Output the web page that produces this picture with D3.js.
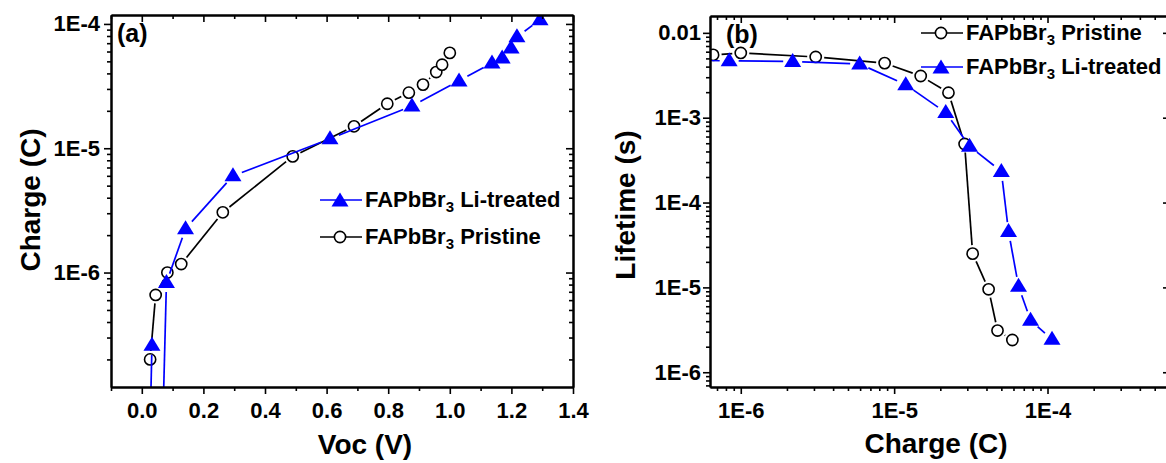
<!doctype html>
<html lang="en">
<head>
<meta charset="utf-8">
<title>Charge and lifetime</title>
<script src="https://cdn.jsdelivr.net/npm/d3@7"></script>
<style>
  body { margin: 0; background: #fff; }
  svg text { font-family: "Liberation Sans", Arial, sans-serif; font-weight: bold; fill: #000; white-space: pre; }
  .axis path { stroke: #000; stroke-width: 2; }
  .axis line { stroke: #000; stroke-width: 1.6; }
</style>
</head>
<body>
<div id="viz"></div>
<script>
// ---- DATA ----
// panel (a): charge vs Voc (first points of Li-treated dip below the axis)
var vocLi       = [0.033, 0.02, 0.06, 0.08, 0.142, 0.296, 0.611, 0.877, 1.03, 1.137, 1.17, 1.199, 1.218, 1.293];
var chargeLi    = [2.6e-7, 1e-8, 1e-8, 8.3e-7, 2.25e-6, 6.0e-6, 1.19e-5, 2.19e-5, 3.48e-5, 4.86e-5, 5.33e-5, 6.41e-5, 7.87e-5, 1.08e-4];
var vocPristine    = [0.027, 0.045, 0.083, 0.128, 0.263, 0.49, 0.689, 0.797, 0.867, 0.913, 0.956, 0.975, 1.0];
var chargePristine = [2.0e-7, 6.6e-7, 1.0e-6, 1.17e-6, 3.05e-6, 8.6e-6, 1.5e-5, 2.28e-5, 2.8e-5, 3.25e-5, 4.1e-5, 4.7e-5, 5.85e-5];

// panel (b): lifetime vs charge
var qLi        = [2.6e-7, 8.4e-7, 2.18e-6, 5.96e-6, 1.19e-5, 2.17e-5, 3.1e-5, 5.0e-5, 5.57e-5, 6.47e-5, 7.75e-5, 1.07e-4];
var tauLi      = [4.8e-3, 4.7e-3, 4.6e-3, 4.3e-3, 2.45e-3, 1.15e-3, 4.6e-4, 2.33e-4, 4.56e-5, 1.03e-5, 4.1e-6, 2.44e-6];
var qPristine   = [6.6e-7, 1.0e-6, 3.08e-6, 8.67e-6, 1.49e-5, 2.26e-5, 2.88e-5, 3.25e-5, 4.13e-5, 4.72e-5, 5.9e-5];
var tauPristine = [5.5e-3, 5.8e-3, 5.2e-3, 4.4e-3, 3.1e-3, 1.97e-3, 4.9e-4, 2.5e-5, 9.5e-6, 3.1e-6, 2.4e-6];

// tick labels
var vocTicks = [0, 0.2, 0.4, 0.6, 0.8, 1.0, 1.2, 1.4];
var chargeTicksA = [1e-6, 1e-5, 1e-4];
var chargeTicksB = [1e-6, 1e-5, 1e-4];
var tauTicks = [1e-6, 1e-5, 1e-4, 1e-3, 1e-2];

var BLUE = "#0000ff";

var w = 1166, h = 463;
var svg = d3.select("#viz").append("svg")
	.attr("width", w)
	.attr("height", h);

svg.append("rect").attr("width", w).attr("height", h).attr("fill", "#fff");

// log minor ticks 2..9 inside a domain
function minorLog(scale) {
	var d = scale.domain(), out = [];
	var lo = Math.floor(Math.log10(Math.min(d[0], d[1]))), hi = Math.ceil(Math.log10(Math.max(d[0], d[1])));
	for (var e = lo; e <= hi; e++) {
		for (var m = 2; m <= 9; m++) {
			var v = m * Math.pow(10, e);
			if (v >= Math.min(d[0], d[1]) && v <= Math.max(d[0], d[1])) out.push(v);
		}
	}
	return out;
}

function expFmt(v) {
	var e = Math.round(Math.log10(v));
	return "1E" + e;
}

// frame with mirrored axes
function frame(g, x, y, o) {
	var x0 = x.range()[0], x1 = x.range()[1], y0 = y.range()[0], y1 = y.range()[1];

	g.append("g").attr("class", "axis").attr("transform", "translate(0," + y0 + ")")
		.call(d3.axisBottom(x).tickValues(o.xMinor).tickFormat("").tickSize(4).tickSizeOuter(0));
	g.append("g").attr("class", "axis").attr("transform", "translate(0," + y0 + ")")
		.call(d3.axisBottom(x).tickValues(o.xMajor).tickFormat(o.xFmt).tickSize(7).tickPadding(8).tickSizeOuter(0))
		.selectAll("text").style("font-size", "22px");

	g.append("g").attr("class", "axis").attr("transform", "translate(0," + y1 + ")")
		.call(d3.axisTop(x).tickValues(o.xMinor).tickFormat("").tickSize(-4).tickSizeOuter(0));
	g.append("g").attr("class", "axis").attr("transform", "translate(0," + y1 + ")")
		.call(d3.axisTop(x).tickValues(o.xMajor).tickFormat("").tickSize(-7).tickSizeOuter(0));

	g.append("g").attr("class", "axis").attr("transform", "translate(" + x0 + ",0)")
		.call(d3.axisLeft(y).tickValues(o.yMinor).tickFormat("").tickSize(4).tickSizeOuter(0));
	g.append("g").attr("class", "axis").attr("transform", "translate(" + x0 + ",0)")
		.call(d3.axisLeft(y).tickValues(o.yMajor).tickFormat(o.yFmt).tickSize(7).tickPadding(o.yPad).tickSizeOuter(0))
		.selectAll("text").style("font-size", "22px");

	g.append("g").attr("class", "axis").attr("transform", "translate(" + x1 + ",0)")
		.call(d3.axisRight(y).tickValues(o.yMinor).tickFormat("").tickSize(-4).tickSizeOuter(0));
	g.append("g").attr("class", "axis").attr("transform", "translate(" + x1 + ",0)")
		.call(d3.axisRight(y).tickValues(o.yMajor).tickFormat("").tickSize(-7).tickSizeOuter(0));
}

function clip(id, x, y) {
	svg.append("clipPath").attr("id", id).append("rect")
		.attr("x", x.range()[0]).attr("y", y.range()[1])
		.attr("width", x.range()[1] - x.range()[0])
		.attr("height", y.range()[0] - y.range()[1]);
}

var triPath = "M0,-8.5L8.5,5.5L-8.5,5.5Z";

// lines with a gap around every symbol, Origin style
function series(g, xs, ys, x, y, color, shape) {
	var pts = xs.map(function(v, i) { return [x(v), y(ys[i])]; });
	var gap = shape === "tri" ? 9.5 : 8.5;
	var segs = d3.pairs(pts).filter(function(s) {
		return Math.hypot(s[1][0] - s[0][0], s[1][1] - s[0][1]) > 2 * gap;
	});
	g.selectAll(null).data(segs).enter().append("line")
		.attr("x1", function(s) { var L = Math.hypot(s[1][0] - s[0][0], s[1][1] - s[0][1]); return s[0][0] + (s[1][0] - s[0][0]) * gap / L; })
		.attr("y1", function(s) { var L = Math.hypot(s[1][0] - s[0][0], s[1][1] - s[0][1]); return s[0][1] + (s[1][1] - s[0][1]) * gap / L; })
		.attr("x2", function(s) { var L = Math.hypot(s[1][0] - s[0][0], s[1][1] - s[0][1]); return s[1][0] - (s[1][0] - s[0][0]) * gap / L; })
		.attr("y2", function(s) { var L = Math.hypot(s[1][0] - s[0][0], s[1][1] - s[0][1]); return s[1][1] - (s[1][1] - s[0][1]) * gap / L; })
		.attr("stroke", color).attr("stroke-width", 1.7);

	if (shape === "tri") {
		g.selectAll(null).data(pts).enter().append("path")
			.attr("d", triPath)
			.attr("transform", function(p) { return "translate(" + p[0] + "," + p[1] + ")"; })
			.attr("fill", color);
	} else {
		g.selectAll(null).data(pts).enter().append("circle")
			.attr("cx", function(p) { return p[0]; })
			.attr("cy", function(p) { return p[1]; })
			.attr("r", 5.6)
			.attr("fill", "#fff").attr("stroke", color).attr("stroke-width", 1.6);
	}
}

function legendRow(g, x, y, shape, color, label) {
	g.append("line").attr("x1", x).attr("x2", x + 42).attr("y1", y).attr("y2", y)
		.attr("stroke", color).attr("stroke-width", 1.7);
	if (shape === "tri") {
		g.append("path").attr("d", triPath).attr("transform", "translate(" + (x + 20) + "," + (y + 1) + ")").attr("fill", color);
	} else {
		g.append("circle").attr("cx", x + 20).attr("cy", y).attr("r", 5.6)
			.attr("fill", "#fff").attr("stroke", color).attr("stroke-width", 1.6);
	}
	var t = g.append("text").attr("x", x + 45).attr("y", y + 7).style("font-size", "22px");
	t.append("tspan").text("FAPbBr");
	t.append("tspan").attr("dy", 5).style("font-size", "15px").text("3");
	t.append("tspan").attr("dy", -5).text(" " + label);
}

// ---- PANEL (a) ----
var xa = d3.scaleLinear().domain([-0.1, 1.4]).range([111, 573]);
var ya = d3.scaleLog().domain([1.2e-7, 1.18e-4]).range([387, 15]);
var ga = svg.append("g");
clip("clipA", xa, ya);

var da = ga.append("g").attr("clip-path", "url(#clipA)");
series(da, vocPristine, chargePristine, xa, ya, "#000", "circle");
series(da, vocLi, chargeLi, xa, ya, BLUE, "tri");

frame(ga, xa, ya, {
	xMajor: vocTicks, xMinor: d3.range(-0.1, 1.45, 0.2).map(function(v) { return +v.toFixed(1); }),
	xFmt: d3.format(".1f"),
	yMajor: chargeTicksA, yMinor: minorLog(ya), yFmt: expFmt, yPad: 4
});

legendRow(ga, 320, 200, "tri", BLUE, "Li-treated");
legendRow(ga, 320, 237, "circle", "#000", "Pristine");

ga.append("text").attr("x", 117).attr("y", 42).style("font-size", "25px").text("(a)");
ga.append("text").attr("x", 365).attr("y", 454).attr("text-anchor", "middle").style("font-size", "28px").text("Voc (V)");
ga.append("text").attr("transform", "translate(40,200) rotate(-90)").attr("text-anchor", "middle")
	.style("font-size", "28px").text("Charge (C)");

// ---- PANEL (b) ----
var xb = d3.scaleLog().domain([6.3e-7, 6.29e-4]).range([710, 1170]);
var yb = d3.scaleLog().domain([6.7e-7, 0.0158]).range([387, 16]);
var gb = svg.append("g");
clip("clipB", xb, yb);

var db = gb.append("g").attr("clip-path", "url(#clipB)");
series(db, qPristine, tauPristine, xb, yb, "#000", "circle");
series(db, qLi, tauLi, xb, yb, BLUE, "tri");

frame(gb, xb, yb, {
	xMajor: chargeTicksB, xMinor: minorLog(xb), xFmt: expFmt,
	yMajor: tauTicks, yMinor: minorLog(yb),
	yFmt: function(v) { return v === 1e-2 ? "0.01" : expFmt(v); }, yPad: 2
});

legendRow(gb, 921, 33, "circle", "#000", "Pristine");
legendRow(gb, 921, 67, "tri", BLUE, "Li-treated");

gb.append("text").attr("x", 726).attr("y", 43).style("font-size", "25px").text("(b)");
gb.append("text").attr("x", 936).attr("y", 453).attr("text-anchor", "middle").style("font-size", "28px").text("Charge (C)");
gb.append("text").attr("transform", "translate(635,205) rotate(-90)").attr("text-anchor", "middle")
	.style("font-size", "28px").text("Lifetime (s)");
</script>
</body>
</html>
